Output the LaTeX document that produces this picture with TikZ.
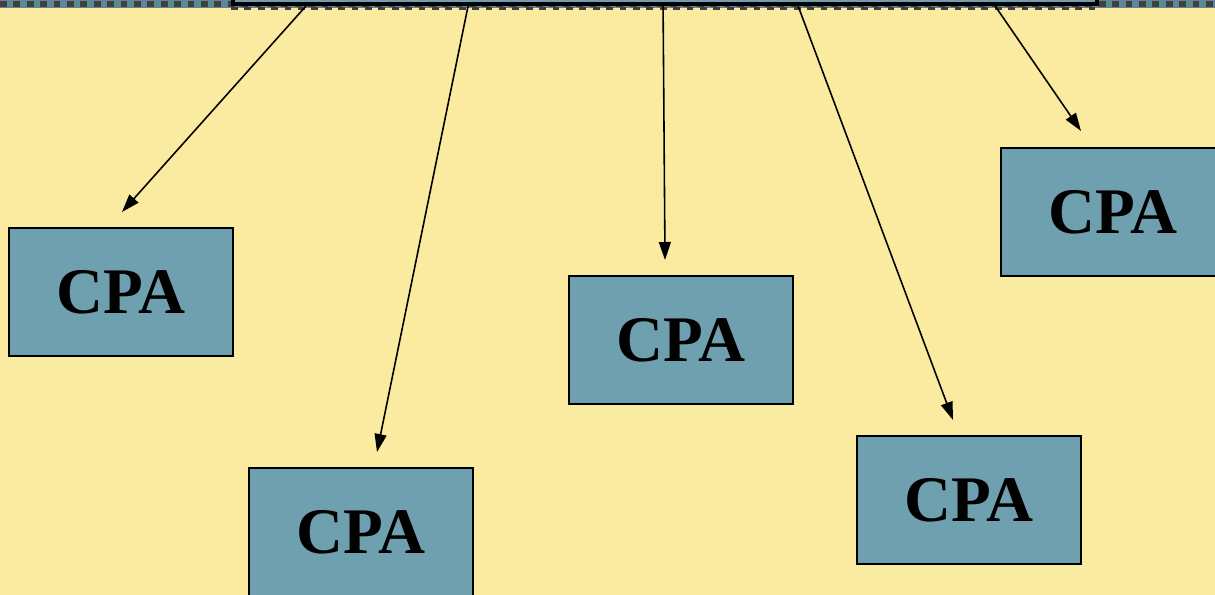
\documentclass[tikz,border=0pt]{standalone}
\usepackage{fontspec}
\setmainfont{Liberation Serif}
\usetikzlibrary{calc,arrows.meta,positioning}
\definecolor{slidebg}{RGB}{250,235,160}
\definecolor{cpafill}{RGB}{111,160,176}
\definecolor{bandgrey}{RGB}{64,64,64}
\tikzset{
  cpabox/.style={rectangle, draw=black, fill=cpafill, line width=0.45pt,
    minimum width=22.4mm, minimum height=12.8mm, inner sep=0pt,
    font=\fontsize{18.5}{20}\selectfont\bfseries},
  feed/.style={-{Triangle[length=1.8mm,width=1.2mm]}, line width=0.45pt}
}
\begin{document}
\begin{tikzpicture}[x=0.1mm,y=-0.1mm]
      \useasboundingbox (0,0) rectangle (1215,595);
      \fill[slidebg] (0,0) rectangle (1215,595);
      % dashed strip along the top edge
      \fill[cpafill!85!black] (0,0) rectangle (1215,8);
      \draw[bandgrey, line width=0.6mm, dash pattern=on 0.67mm off 0.67mm] (0,4) -- (1215,4);
      \node[rectangle, draw=black, fill=cpafill, line width=1.1pt, minimum width=86.4mm, minimum height=6mm, inner sep=0pt] (top) at (665,-26) {};
      \draw[bandgrey, line width=0.25mm, dash pattern=on 0.67mm off 0.67mm] (top.south west) ++(0,2.5) -- ++(864,0);
      % the five boxes
      \node[cpabox] (cpa1) at (121,292) {CPA};
      \node[cpabox] (cpa2) at (361,532) {CPA};
      \node[cpabox] (cpa3) at (681,340) {CPA};
      \node[cpabox] (cpa4) at (969,500) {CPA};
      \node[cpabox] (cpa5) at (1113,212) {CPA};
      % start points on the top box, tips above the boxes
      \coordinate (s1) at ($(top.south west)+(75,0)$);
      \coordinate (s2) at ($(top.south west)+(237,0)$);
      \coordinate (s3) at ($(top.south west)+(432,0)$);
      \coordinate (s4) at ($(top.south west)+(567,0)$);
      \coordinate (s5) at ($(top.south west)+(764,0)$);
      \coordinate (e1) at (122,212);
      \coordinate (e2) at (377,452);
      \coordinate (e3) at (665,260);
      \coordinate (e4) at (953,420);
      \coordinate (e5) at (1081,131);
      \draw[feed] (s1) -- (e1);
      \draw[feed] (s2) -- (e2);
      \draw[feed] (s3) -- (e3);
      \draw[feed] (s4) -- (e4);
      \draw[feed] (s5) -- (e5);
    \end{tikzpicture}
\end{document}
